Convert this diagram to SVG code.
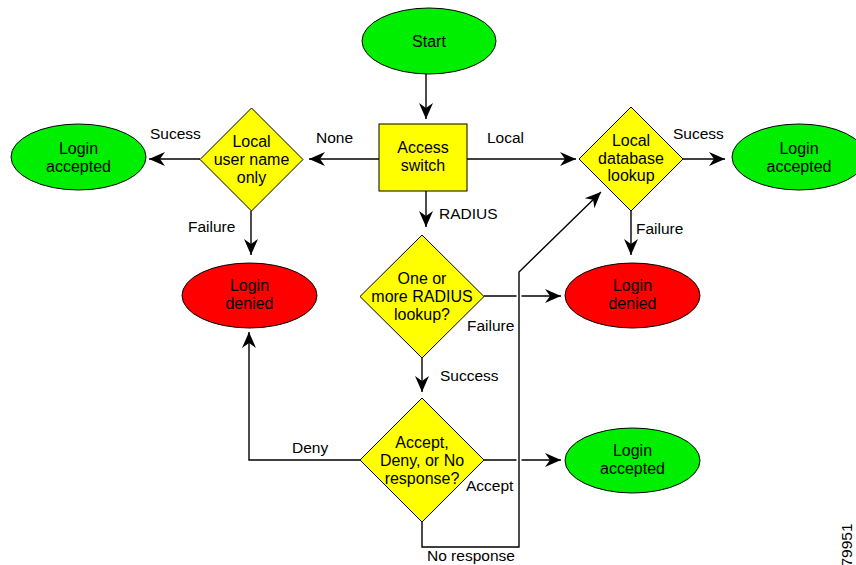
<svg xmlns="http://www.w3.org/2000/svg" width="856" height="565" viewBox="0 0 856 565">
<style>
.g{fill:#00ee00;stroke:#000;stroke-width:1}
.r{fill:#ff0000;stroke:#000;stroke-width:1}
.y{fill:#ffff00;stroke:#000;stroke-width:1}
.t{font-family:"Liberation Sans",Arial,sans-serif;font-size:16px;fill:#000;text-anchor:middle}
.l{font-family:"Liberation Sans",Arial,sans-serif;font-size:15.5px;fill:#000}
.c{fill:none;stroke:#000;stroke-width:1.4}
.halo{fill:none;stroke:#fff;stroke-width:5}
</style>
<defs>
<marker id="ah" viewBox="-16 -8 17 16" refX="0" refY="0" markerWidth="17" markerHeight="16" markerUnits="userSpaceOnUse" orient="auto">
<path d="M0,0 L-16,-7 L-11,0 L-16,7 Z" fill="#000"/>
</marker>
</defs>
<rect width="856" height="565" fill="#fff"/>
<g id="connectors">
<path class="c" d="M426,73 V119" marker-end="url(#ah)"/>
<path class="c" d="M379,159 H309" marker-end="url(#ah)"/>
<path class="c" d="M200,159 H149" marker-end="url(#ah)"/>
<path class="c" d="M467,159 H576" marker-end="url(#ah)"/>
<path class="c" d="M683,159 H725" marker-end="url(#ah)"/>
<path class="c" d="M426,191 V227" marker-end="url(#ah)"/>
<path class="c" d="M251,211 V255" marker-end="url(#ah)"/>
<path class="c" d="M631,211 V255" marker-end="url(#ah)"/>
<path class="c" d="M484,296 H561" marker-end="url(#ah)"/>
<path class="c" d="M422,358 V392" marker-end="url(#ah)"/>
<path class="c" d="M360,460 H249 V332" marker-end="url(#ah)"/>
<path class="c" d="M484,460 H561" marker-end="url(#ah)"/>
<path class="halo" d="M519,540 V280"/>
<path class="c" d="M422,522 V547 H519 V272 L601,192" marker-end="url(#ah)"/>
<text class="l" x="150" y="139">Sucess</text>
<text class="l" x="316" y="143">None</text>
<text class="l" x="487" y="143">Local</text>
<text class="l" x="673" y="139">Sucess</text>
<text class="l" x="439" y="219">RADIUS</text>
<text class="l" x="188" y="232">Failure</text>
<text class="l" x="636" y="234">Failure</text>
<text class="l" x="467" y="331">Failure</text>
<text class="l" x="440" y="381">Success</text>
<text class="l" x="292" y="453">Deny</text>
<text class="l" x="466" y="491">Accept</text>
<text class="l" x="427" y="561">No response</text>
</g>
<g id="start">
<ellipse class="g" cx="429" cy="41" rx="67" ry="33"/>
<text class="t" x="429" y="47">Start</text>
</g>
<g id="access-switch">
<rect class="y" x="379" y="124" width="88" height="67"/>
<text class="t" x="423" y="153">Access</text>
<text class="t" x="423" y="171">switch</text>
</g>
<g id="local-user">
<polygon class="y" points="251.5,108 303,159.5 251.5,211 200,159.5"/>
<text class="t" x="251.5" y="147">Local</text>
<text class="t" x="251.5" y="165">user name</text>
<text class="t" x="251.5" y="183">only</text>
</g>
<g id="accepted-left">
<ellipse class="g" cx="78.5" cy="157" rx="67.5" ry="33"/>
<text class="t" x="78.5" y="154">Login</text>
<text class="t" x="78.5" y="172">accepted</text>
</g>
<g id="local-db">
<polygon class="y" points="631,107 683,159 631,211 579,159"/>
<text class="t" x="631" y="146">Local</text>
<text class="t" x="631" y="164">database</text>
<text class="t" x="631" y="181">lookup</text>
</g>
<g id="accepted-right">
<ellipse class="g" cx="799" cy="157" rx="67" ry="33"/>
<text class="t" x="799" y="154">Login</text>
<text class="t" x="799" y="172">accepted</text>
</g>
<g id="denied-left">
<ellipse class="r" cx="249.5" cy="295.5" rx="67.5" ry="32.5"/>
<text class="t" x="249.5" y="291">Login</text>
<text class="t" x="249.5" y="309">denied</text>
</g>
<g id="radius-lookup">
<polygon class="y" points="422,235 484,296.5 422,358 360,296.5"/>
<text class="t" x="422" y="284">One or</text>
<text class="t" x="422" y="302">more RADIUS</text>
<text class="t" x="422" y="320">lookup?</text>
</g>
<g id="denied-right">
<ellipse class="r" cx="632.5" cy="295.5" rx="67.5" ry="32.5"/>
<text class="t" x="632.5" y="291">Login</text>
<text class="t" x="632.5" y="309">denied</text>
</g>
<g id="response">
<polygon class="y" points="422,398 484,460 422,522 360,460"/>
<text class="t" x="422" y="448">Accept,</text>
<text class="t" x="422" y="466">Deny, or No</text>
<text class="t" x="422" y="484">response?</text>
</g>
<g id="accepted-bottom">
<ellipse class="g" cx="632.5" cy="460.5" rx="67.5" ry="32.5"/>
<text class="t" x="632.5" y="456">Login</text>
<text class="t" x="632.5" y="474">accepted</text>
</g>
<text class="l" transform="translate(852,545) rotate(-90)" text-anchor="middle" font-size="13">79951</text>
</svg>
